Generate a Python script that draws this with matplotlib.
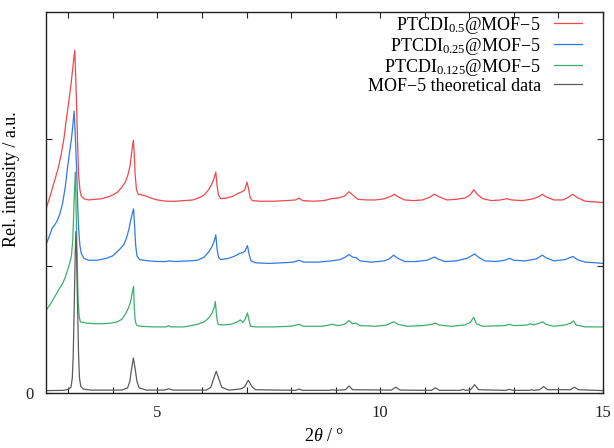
import matplotlib
matplotlib.use('Agg')
import matplotlib.pyplot as plt

plt.rcParams['font.family'] = ['Liberation Serif', 'DejaVu Serif']
plt.rcParams['mathtext.fontset'] = 'custom'
plt.rcParams['mathtext.rm'] = 'Liberation Serif'
plt.rcParams['mathtext.it'] = 'Liberation Serif:italic'

labels = ['PTCDI$_{0.5}$@MOF\u22125', 'PTCDI$_{0.25}$@MOF\u22125',
          'PTCDI$_{0.125}$@MOF\u22125', 'MOF\u22125 theoretical data']
colors = ['#f0484c', '#2f7ae6', '#3daf6a', '#5c5c5c']

# values (2theta, rel. intensity incl. offset)
red_x = [2.50, 2.60, 2.69, 2.78, 2.84, 2.90, 2.95, 3.00, 3.06, 3.10, 3.145, 3.17, 3.19, 3.21,
         3.23, 3.26, 3.29, 3.35, 3.45, 3.60, 3.75, 3.90, 4.00, 4.10, 4.20, 4.28, 4.34, 4.39,
         4.43, 4.46, 4.48, 4.50, 4.53, 4.57, 4.65, 4.75, 4.85, 5.00, 5.20, 5.40, 5.60, 5.80,
         5.95, 6.05, 6.15, 6.22, 6.27, 6.31, 6.34, 6.37, 6.42, 6.55, 6.70, 6.80, 6.90, 6.96,
         7.01, 7.05, 7.08, 7.13, 7.30, 7.60, 7.90, 8.10, 8.18, 8.26, 8.50, 8.75, 8.90, 9.05,
         9.20, 9.30, 9.38, 9.50, 9.70, 9.90, 10.10, 10.25, 10.32, 10.40, 10.55, 10.75, 10.95,
         11.10, 11.22, 11.32, 11.50, 11.70, 11.90, 12.02, 12.10, 12.18, 12.30, 12.50, 12.70,
         12.85, 12.95, 13.20, 13.45, 13.58, 13.64, 13.72, 13.90, 14.10, 14.22, 14.32, 14.42,
         14.60, 14.80, 15.00]
red_y = [1.45, 1.56, 1.67, 1.78, 1.88, 2.00, 2.14, 2.27, 2.43, 2.56, 2.70, 2.45, 2.20, 1.95,
         1.72, 1.60, 1.55, 1.53, 1.52, 1.525, 1.53, 1.545, 1.56, 1.58, 1.62, 1.66, 1.72, 1.80,
         1.92, 1.99, 1.88, 1.72, 1.60, 1.565, 1.56, 1.55, 1.535, 1.52, 1.51, 1.51, 1.515, 1.52,
         1.54, 1.56, 1.60, 1.645, 1.69, 1.74, 1.63, 1.56, 1.53, 1.535, 1.55, 1.57, 1.585, 1.60,
         1.66, 1.60, 1.54, 1.515, 1.51, 1.51, 1.515, 1.52, 1.535, 1.515, 1.51, 1.515, 1.53, 1.535,
         1.55, 1.585, 1.56, 1.525, 1.52, 1.52, 1.53, 1.55, 1.565, 1.545, 1.52, 1.515, 1.52,
         1.54, 1.565, 1.545, 1.52, 1.525, 1.535, 1.56, 1.60, 1.565, 1.53, 1.515, 1.52,
         1.53, 1.52, 1.515, 1.53, 1.55, 1.565, 1.545, 1.52, 1.52, 1.54, 1.565, 1.54,
         1.51, 1.505, 1.50]

blue_x = [2.50, 2.58, 2.64, 2.69, 2.74, 2.80, 2.87, 2.93, 2.98, 3.03, 3.07, 3.105, 3.13, 3.16,
          3.19, 3.21, 3.23, 3.26, 3.29, 3.35, 3.45, 3.65, 3.85, 4.00, 4.15, 4.25, 4.31, 4.36,
          4.40, 4.44, 4.465, 4.49, 4.51, 4.54, 4.60, 4.80, 5.00, 5.20, 5.25, 5.40, 5.70, 5.90,
          6.05, 6.15, 6.22, 6.27, 6.31, 6.34, 6.37, 6.42, 6.60, 6.75, 6.85, 6.92, 6.97, 7.02,
          7.06, 7.10, 7.20, 7.50, 7.80, 8.05, 8.18, 8.28, 8.60, 8.90, 9.10, 9.22, 9.30, 9.38,
          9.46, 9.55, 9.80, 10.10, 10.22, 10.30, 10.40, 10.55, 10.80, 11.05, 11.15, 11.22,
          11.30, 11.45, 11.70, 11.95, 12.05, 12.12, 12.20, 12.35, 12.60, 12.80, 12.90, 13.00,
          13.25, 13.50, 13.64, 13.72, 13.90, 14.15, 14.25, 14.33, 14.42, 14.60, 14.85, 15.00]
blue_y = [1.17, 1.24, 1.30, 1.32, 1.35, 1.40, 1.49, 1.62, 1.77, 1.90, 2.00, 2.12, 2.22, 2.00,
          1.72, 1.48, 1.30, 1.16, 1.10, 1.06, 1.045, 1.045, 1.06, 1.08, 1.13, 1.17, 1.225, 1.29,
          1.36, 1.42, 1.45, 1.30, 1.17, 1.08, 1.05, 1.04, 1.035, 1.035, 1.04, 1.035, 1.04, 1.045,
          1.07, 1.11, 1.15, 1.19, 1.245, 1.13, 1.07, 1.05, 1.06, 1.08, 1.10, 1.105, 1.12, 1.16,
          1.09, 1.04, 1.025, 1.02, 1.025, 1.03, 1.045, 1.03, 1.03, 1.04, 1.05, 1.07, 1.09, 1.07,
          1.065, 1.04, 1.03, 1.04, 1.06, 1.085, 1.06, 1.035, 1.035, 1.045, 1.06, 1.07,
          1.055, 1.035, 1.04, 1.06, 1.08, 1.095, 1.07, 1.04, 1.035, 1.045, 1.06, 1.045,
          1.04, 1.055, 1.085, 1.065, 1.04, 1.05, 1.065, 1.075, 1.05, 1.03, 1.025, 1.02]

green_x = [2.50, 2.60, 2.69, 2.78, 2.87, 2.93, 2.98, 3.03, 3.07, 3.10, 3.12, 3.14, 3.16, 3.175,
           3.19, 3.205, 3.22, 3.245, 3.27, 3.40, 3.60, 3.80, 3.96, 4.10, 4.20, 4.28, 4.35, 4.40,
           4.44, 4.465, 4.48, 4.50, 4.53, 4.60, 4.90, 5.20, 5.25, 5.30, 5.60, 5.90, 6.05, 6.15,
           6.23, 6.28, 6.30, 6.33, 6.36, 6.45, 6.65, 6.80, 6.86, 6.92, 6.97, 7.02, 7.06, 7.09,
           7.20, 7.60, 8.00, 8.18, 8.28, 8.70, 8.93, 9.05, 9.20, 9.30, 9.38, 9.45, 9.55, 9.90,
           10.15, 10.30, 10.40, 10.60, 10.95, 11.15, 11.24, 11.32, 11.60, 11.90, 12.02, 12.10,
           12.16, 12.30, 12.80, 12.90, 13.00, 13.30, 13.37, 13.45, 13.58, 13.65, 13.72, 13.90,
           14.15, 14.28, 14.34, 14.40, 14.60, 15.00]
green_y = [0.65, 0.70, 0.755, 0.81, 0.86, 0.91, 0.965, 1.02, 1.08, 1.20, 1.41, 1.60, 1.74, 1.45,
           1.20, 0.95, 0.72, 0.60, 0.56, 0.55, 0.545, 0.545, 0.55, 0.56, 0.58, 0.62, 0.67, 0.72,
           0.80, 0.84, 0.68, 0.57, 0.535, 0.525, 0.52, 0.52, 0.53, 0.52, 0.52, 0.54, 0.56, 0.59,
           0.63, 0.68, 0.72, 0.60, 0.54, 0.535, 0.54, 0.56, 0.575, 0.555, 0.58, 0.63, 0.57, 0.525,
           0.52, 0.52, 0.525, 0.54, 0.525, 0.525, 0.54, 0.53, 0.54, 0.57, 0.545, 0.55, 0.53, 0.525,
           0.535, 0.56, 0.54, 0.525, 0.53, 0.54, 0.55, 0.535, 0.525, 0.535, 0.555, 0.595,
           0.545, 0.525, 0.53, 0.54, 0.53, 0.535, 0.545, 0.535, 0.55, 0.56, 0.54, 0.525,
           0.535, 0.55, 0.567, 0.535, 0.52, 0.52]

gray_x = [2.50, 2.90, 3.00, 3.06, 3.09, 3.11, 3.135, 3.155, 3.17, 3.185, 3.205, 3.23, 3.25,
          3.28, 3.34, 3.50, 4.20, 4.33, 4.38, 4.42, 4.46, 4.50, 4.54, 4.59, 4.75, 5.15, 5.25,
          5.35, 6.10, 6.20, 6.26, 6.32, 6.38, 6.44, 6.60, 6.85, 6.90, 6.96, 7.04, 7.12, 7.20,
          8.10, 8.18, 8.26, 8.85, 8.93, 9.00, 9.22, 9.30, 9.38, 10.25, 10.35, 10.45, 11.15,
          11.24, 11.33, 11.80, 11.86, 11.92, 12.03, 12.12, 12.21, 12.82, 12.90, 12.98, 13.35,
          13.40, 13.45, 13.58, 13.67, 13.76, 14.27, 14.36, 14.45, 15.00]
gray_y = [0.018, 0.02, 0.028, 0.045, 0.12, 0.30, 0.72, 1.10, 1.27, 1.10, 0.72, 0.30, 0.12,
          0.05, 0.03, 0.022, 0.022, 0.04, 0.09, 0.19, 0.275, 0.19, 0.09, 0.04, 0.022, 0.022, 0.032,
          0.022, 0.022, 0.045, 0.11, 0.17, 0.11, 0.045, 0.022, 0.03, 0.035, 0.05, 0.10, 0.05, 0.025,
          0.02, 0.03, 0.02, 0.02, 0.025, 0.02, 0.025, 0.055, 0.025, 0.022, 0.045, 0.022, 0.02,
          0.04, 0.02, 0.02, 0.028, 0.02, 0.025, 0.065, 0.025, 0.02, 0.028, 0.02, 0.02,
          0.025, 0.02, 0.025, 0.05, 0.025, 0.025, 0.045, 0.025, 0.018]

xticks = list(range(3, 16))
xticklabels = ['5' if t == 5 else '10' if t == 10 else '15' if t == 15 else '' for t in xticks]
yticks = [0, 1, 2]
yticklabels = ['0', '', '']

fig = plt.figure(figsize=(6.14, 4.48), dpi=100)
ax = fig.add_axes([0.075, 0.123, 0.907, 0.850])

series = [(red_x, red_y), (blue_x, blue_y), (green_x, green_y), (gray_x, gray_y)]
for (xs, ys), c, lab in zip(series, colors, labels):
    ax.plot(xs, ys, color=c, lw=0.9, label=lab)

ax.set_xlim(2.5, 15)
ax.set_ylim(0, 3)
ax.set_xticks(xticks)
ax.set_xticklabels(xticklabels)
ax.set_yticks(yticks)
ax.set_yticklabels(yticklabels)
ax.tick_params(direction='in', length=4, width=0.8, top=True, right=True,
               labelsize=12, pad=9, colors='#222222')
for s in ax.spines.values():
    s.set_linewidth(1.0)
    s.set_color('#222222')

ax.set_xlabel(r'2$\theta$ / °', fontsize=13)
ax.xaxis.set_label_coords(0.5, -0.092)
ax.set_ylabel('Rel. intensity / a.u.', fontsize=13)
ax.yaxis.set_label_coords(-0.047, 0.56)

leg = ax.legend(loc='upper right', frameon=False, markerfirst=False, fontsize=13,
                handlelength=1.6, handletextpad=0.7, labelspacing=0.0,
                borderaxespad=0.0, borderpad=0.15, bbox_to_anchor=(0.968, 1.0))

fig.savefig('out.png', dpi=100)
